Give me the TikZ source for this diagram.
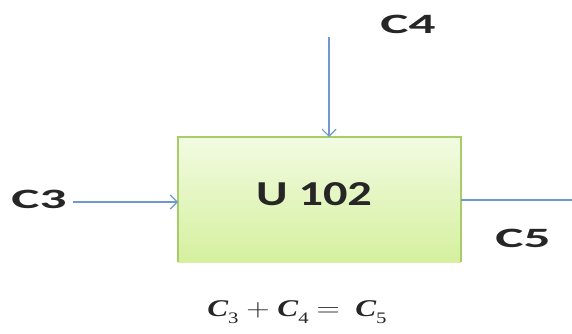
\documentclass[tikz,border=0pt]{standalone}
\usepackage{fontspec}
\setmainfont{Carlito}
\newfontfamily\eqfont{Liberation Serif}
\usetikzlibrary{arrows.meta}
\definecolor{flowblue}{HTML}{6F98CF}
\definecolor{boxedge}{HTML}{A9CC6A}
\definecolor{boxtop}{HTML}{F2FBE2}
\definecolor{boxbot}{HTML}{D5F09E}
\newcommand{\widetxt}[2]{\scalebox{#1}[1]{#2}}
\newcommand{\eqC}[1]{{\bfseries\itshape C}\raisebox{-0.28em}{\fontsize{16}{17}\selectfont #1}}
\begin{document}
\begin{tikzpicture}[x=1pt,y=-1pt,
  lbl/.style={font=\fontsize{28}{30}\selectfont\bfseries, text=black!85},
  flow/.style={draw=flowblue, line width=1.2pt, -{Straight Barb[length=7pt,width=14pt,line width=1.2pt]}},
  flownotip/.style={draw=flowblue, line width=1.2pt}]
\useasboundingbox (0,0) rectangle (572,334);
\shade[top color=boxtop, bottom color=boxbot] (178,137) rectangle (461,262);
\draw[boxedge, line width=2pt] (178,262) -- (178,137) -- (461,137) -- (461,262);
\node[font=\fontsize{35}{37}\selectfont\bfseries, text=black!85] (u) at (314,194) {\widetxt{1.38}{U 102}};
\coordinate (boxtopin) at (329,137);
\coordinate (boxleftin) at (178,202);
\coordinate (boxrightout) at (461,200);
\coordinate (c4start) at (329,37);
\coordinate (c3start) at (73,202);
\coordinate (c5end) at (572,200);
\node[lbl] (c4) at (408,24) {\widetxt{1.9}{C4}};
\node[lbl] (c3) at (39,199) {\widetxt{1.9}{C3}};
\node[lbl] (c5) at (523,238) {\widetxt{1.9}{C5}};
\draw[flow] (c3start) -- (boxleftin);
\draw[flow] (c4start) -- (boxtopin);
\draw[flownotip] (boxrightout) -- (c5end);
\node[font=\fontsize{24}{26}\selectfont\eqfont, text=black!85] (eq) at (297,312) {\widetxt{1.3}{\eqC{3} $+$ \eqC{4} $=$ \ \eqC{5}}};
\end{tikzpicture}
\end{document}
